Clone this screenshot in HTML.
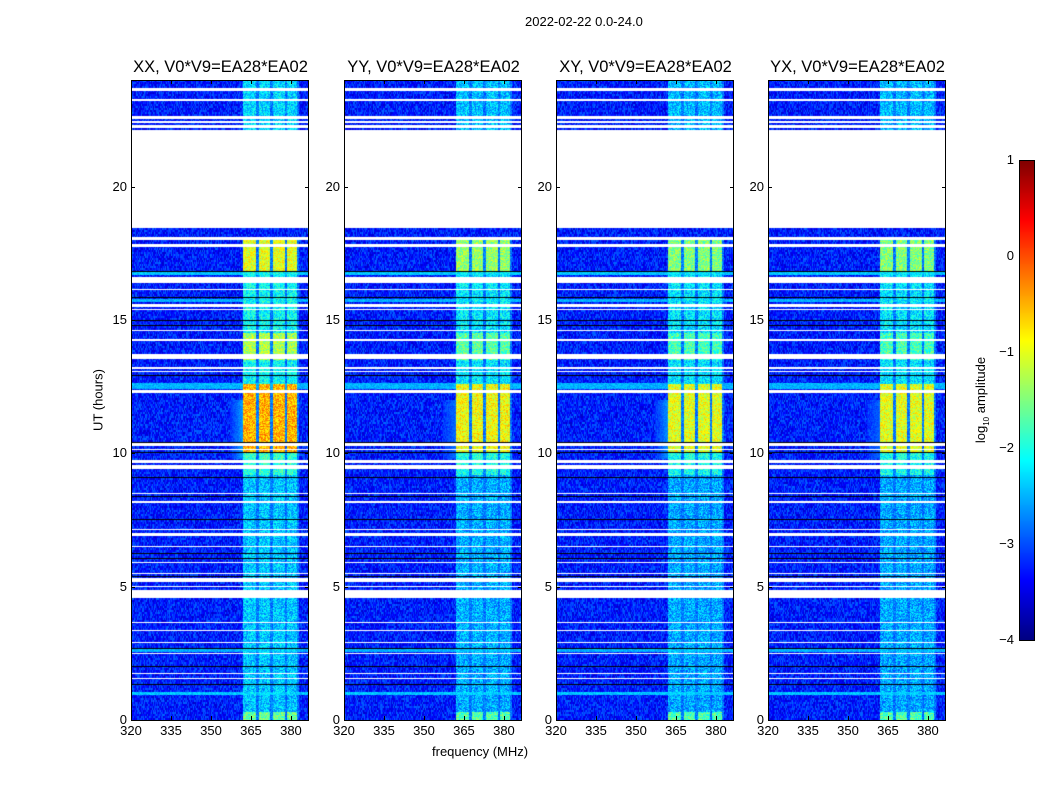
<!DOCTYPE html>
<html><head><meta charset="utf-8"><style>
body{margin:0;background:#fff;font-family:"Liberation Sans",sans-serif;}
#root{position:relative;width:1050px;height:800px;overflow:hidden;background:#fff}
.t{position:absolute;font-size:13px;color:#000;white-space:nowrap}
.title{position:absolute;font-size:16.5px;white-space:nowrap;transform:translateX(-50%)}
canvas{position:absolute}
.frame{position:absolute;border:1px solid #000;box-sizing:border-box}
.tick{position:absolute;background:#000}
</style></head><body>
<div id="root">
<div class="t" style="left:525px;top:14px">2022-02-22 0.0-24.0</div>
<div class="t" style="left:432px;top:744px">frequency (MHz)</div>
<div class="t" style="left:98px;top:400px;transform:translate(-50%,-50%) rotate(-90deg)">UT (hours)</div>
<div class="t" style="left:982px;top:400px;transform:translate(-50%,-50%) rotate(-90deg)">log<sub style="font-size:8px">10</sub> amplitude</div>
</div>
<script>
const panelTitles=["XX, V0*V9=EA28*EA02","YY, V0*V9=EA28*EA02","XY, V0*V9=EA28*EA02","YX, V0*V9=EA28*EA02"];
const xTicks=[320,335,350,365,380];
const yTicks=[0,5,10,15,20];
const cbTicks=[1,0,-1,-2,-3,-4];
const whiteGaps=[[18.45,22.12],[23.6,23.7],[23.2,23.3],[22.55,22.65],[22.4,22.47],[22.2,22.3],[18.0,18.1],[17.74,17.85],[16.39,16.6],[16.13,16.18],[15.5,15.6],[15.37,15.42],[14.6,14.64],[14.2,14.3],[13.54,13.72],[13.18,13.22],[13.06,13.1],[12.26,12.37],[10.27,10.38],[10.13,10.17],[9.64,9.75],[9.41,9.56],[8.49,8.53],[8.13,8.2],[7.14,7.18],[6.9,7.0],[6.5,6.54],[5.87,5.91],[5.49,5.53],[5.17,5.32],[4.97,5.01],[4.57,4.87],[3.62,3.66],[3.32,3.36],[2.87,2.91],[2.49,2.53],[1.74,1.78],[1.52,1.56]];
const blackLines=[16.84,15.86,15.0,14.8,12.94,10.42,10.05,9.11,8.4,7.54,6.26,6.07,5.4,2.7,2.02,1.35];
const brightBands=[[16.7,16.8,-2.4],[15.67,15.8,-2.5],[12.41,12.63,-2.5],[2.55,2.68,-2.5],[0.95,1.05,-2.4]];
const rfiChannels=[[362,366.9],[368,372],[373.2,377.7],[378.5,382.2]];
const rfiTimeLevels=[[0,0.3,-1.6],[0.3,9.2,-2.4],[9.2,10.0,-1.9],[10.0,12.6,-0.5],[12.6,13.5,-2.1],[13.5,14.5,-1.3],[14.5,16.8,-2.1],[16.8,18.1,-1.0],[22.1,24,-2.3]];
const polOffsets=[0,-0.4,-0.5,-0.5];
const glowStrength=[1,0.6,0.9,0.5];
const background=-3.25;
const root=document.getElementById('root');
const PX=[131,344,556,768],PT=80,PW=177,PH=640,F0=320,F1=386.4;
const xs=f=>(f-F0)/(F1-F0)*PW, ys=h=>PH-h/24*PH;
function jet(v){const t=Math.max(0,Math.min(1,(v+4)/5));const c=x=>Math.max(0,Math.min(1,x));
return [c(1.5-Math.abs(4*t-3)),c(1.5-Math.abs(4*t-2)),c(1.5-Math.abs(4*t-1))].map(z=>Math.round(z*255));}
function hash(a,b){let h=(a*374761393+b*668265263)|0;h=(h^(h>>>13))*1274126177|0;return ((h^(h>>>16))>>>0)/4294967296;}
function label(txt,x,y,al,name){const d=document.createElement('div');d.className='t';d.textContent=txt;d.style.top=(y-8)+'px';
if(al==='c'){d.style.left=x+'px';d.style.transform='translateX(-50%)';}else{d.style.right=(1050-x)+'px';}


root.appendChild(d);}
PX.forEach((px,p)=>{
 const cv=document.createElement('canvas');cv.width=PW;cv.height=PH;cv.style.left=px+'px';cv.style.top=PT+'px';
 
 
 root.appendChild(cv);
 const ctx=cv.getContext('2d');const im=ctx.createImageData(PW,PH);
 for(let j=0;j<PH;j++){const h=(PH-j-0.5)/PH*24;
  let white=whiteGaps.some(g=>h>=g[0]&&h<=g[1]);
  let bb=null;brightBands.forEach(b=>{if(h>=b[0]&&h<=b[1])bb=b[2];});
  let rl=null;rfiTimeLevels.forEach(r=>{if(h>=r[0]&&h<r[1])rl=r[2];});
  for(let i=0;i<PW;i++){const k=(j*PW+i)*4;
   if(white){im.data[k]=im.data[k+1]=im.data[k+2]=255;im.data[k+3]=255;continue;}
   const f=F0+(i+0.5)/PW*(F1-F0);
   let v=background+(hash(i+p*1000,j>>1)-0.5)*0.8;
   if(bb!==null)v=bb+(hash(i,j+p*77)-0.5)*0.4;
   let inCh=rfiChannels.some(c=>f>=c[0]&&f<=c[1]);
   if(rl!==null&&inCh){v=Math.max(v,rl+polOffsets[p]*(rl>-1.5?1:0.3)+(hash(i*3,j+p)-0.5)*0.9);}
   else if(rl!==null&&f>=362&&f<=383){v=Math.max(v,-2.8+(hash(i,j*5)-0.5)*0.6);}
   if(h>9.8&&h<12&&f>357&&f<362){v=Math.max(v,-3.2+glowStrength[p]*(0.6-(362-f)*0.12)+(hash(i,j)-0.5)*0.3);}
   const c=jet(v);im.data[k]=c[0];im.data[k+1]=c[1];im.data[k+2]=c[2];im.data[k+3]=255;}}
 ctx.putImageData(im,0,0);
 ctx.fillStyle='#000';blackLines.forEach(b=>{ctx.fillRect(0,Math.round(ys(b)),PW,1);});
 const fr=document.createElement('div');fr.className='frame';fr.style.cssText=`left:${px}px;top:${PT}px;width:${PW+1}px;height:${PH+1}px`;
 
 
 root.appendChild(fr);
 const tt=document.createElement('div');tt.className='title';tt.textContent=panelTitles[p];tt.style.left=(px+PW/2+1)+'px';tt.style.top='58px';
 
 
 root.appendChild(tt);
 xTicks.forEach(v=>{const x=px+xs(v);label(String(v),x,731,'c','x-tick-label');
  [[PT+PH-4],[PT]].forEach(([y])=>{const t=document.createElement('div');t.className='tick';t.style.cssText=`left:${x}px;top:${y}px;width:1px;height:4px`;
  
  
  root.appendChild(t);});});
 yTicks.forEach(v=>{const y=PT+ys(v);label(String(v),px-4,y,'r','y-tick-label');
  [px,px+PW-3].forEach(x=>{const t=document.createElement('div');t.className='tick';t.style.cssText=`left:${x}px;top:${y}px;width:4px;height:1px`;
  
  
  root.appendChild(t);});});
});
const cb=document.createElement('canvas');cb.width=15;cb.height=480;cb.style.left='1019px';cb.style.top='160px';


root.appendChild(cb);
const cc=cb.getContext('2d');for(let j=0;j<480;j++){const c=jet(1-j/480*5);cc.fillStyle=`rgb(${c})`;cc.fillRect(0,j,15,1);}
const cf=document.createElement('div');cf.className='frame';cf.style.cssText='left:1019px;top:160px;width:16px;height:481px';


root.appendChild(cf);
cbTicks.forEach(v=>{const y=160+(1-v)/5*480;label(v<0?'\u2212'+(-v):String(v),1014,y,'r','colorbar-tick-label');});
</script>
</body></html>
